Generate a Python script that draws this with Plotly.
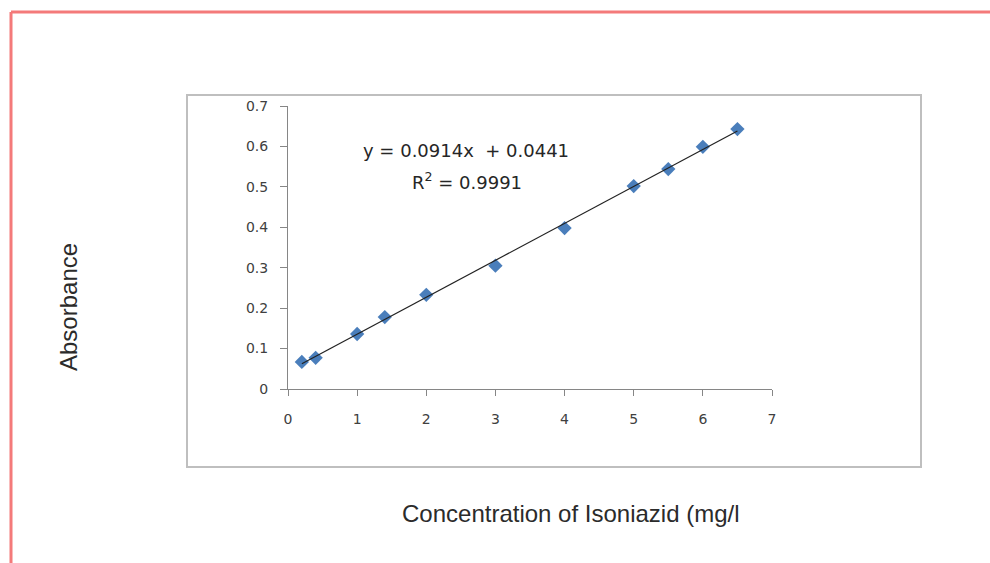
import plotly.graph_objects as go

# Calibration data: isoniazid concentration (mg/l) vs absorbance
concentration = [0.2, 0.4, 1.0, 1.4, 2.0, 3.0, 4.0, 5.0, 5.5, 6.0, 6.5]
absorbance = [0.067, 0.077, 0.136, 0.178, 0.233, 0.305, 0.398, 0.502, 0.544, 0.599, 0.643]

# Linear fit reported on the chart
slope = 0.0914
intercept = 0.0441
r_squared = 0.9991

x_ticks = [0, 1, 2, 3, 4, 5, 6, 7]
y_ticks = [0, 0.1, 0.2, 0.3, 0.4, 0.5, 0.6, 0.7]
y_tick_text = ["0", "0.1", "0.2", "0.3", "0.4", "0.5", "0.6", "0.7"]

W, H = 990, 563
PL, PR, PT, PB = 288, 772, 106, 389  # plot area in pixels


def px(x):
    return (x - PL) / (PR - PL)


def py(y):
    return (PB - y) / (PB - PT)


fit_x = [min(concentration), max(concentration)]
fit_y = [slope * v + intercept for v in fit_x]

fig = go.Figure()
fig.add_trace(go.Scatter(
    x=concentration, y=absorbance, mode="markers",
    marker=dict(symbol="diamond", size=11, color="#4A7EBB",
                line=dict(width=0)),
    showlegend=False,
))
fig.add_trace(go.Scatter(
    x=fit_x, y=fit_y, mode="lines",
    line=dict(color="#222222", width=1.2),
    showlegend=False,
))

axis_color = "#868686"
tick_font = dict(family="DejaVu Sans", size=14, color="#404040")

fig.update_xaxes(
    range=[0, 7], tickvals=x_ticks, showgrid=False, zeroline=False,
    showline=True, linecolor=axis_color, linewidth=1,
    ticks="outside", ticklen=6, tickcolor=axis_color,
    tickfont=tick_font, ticklabelstandoff=11,
)
fig.update_yaxes(
    range=[0, 0.7], tickvals=y_ticks, ticktext=y_tick_text,
    showgrid=False, zeroline=False,
    showline=True, linecolor=axis_color, linewidth=1,
    ticks="outside", ticklen=7, tickcolor=axis_color,
    tickfont=tick_font, ticklabelstandoff=9,
)

shapes = [
    # page border
    dict(type="line", xref="paper", yref="paper",
         x0=px(11), y0=py(12), x1=px(W + 5), y1=py(12),
         line=dict(color="#f47a7a", width=3)),
    dict(type="line", xref="paper", yref="paper",
         x0=px(11), y0=py(12), x1=px(11), y1=py(H + 5),
         line=dict(color="#f47a7a", width=3)),
    # chart frame
    dict(type="rect", xref="paper", yref="paper",
         x0=px(187), y0=py(95), x1=px(921), y1=py(467),
         line=dict(color="#bfbfbf", width=2), layer="below"),
]

eq_font = dict(family="DejaVu Sans", size=18, color="#262626")
annotations = [
    dict(text=f"y = {slope}x\u00a0 + {intercept}", xref="paper", yref="paper",
         x=px(466), y=py(150), showarrow=False, xanchor="center", yanchor="middle",
         font=eq_font),
    dict(text=f"R<sup>2</sup> = {r_squared}", xref="paper", yref="paper",
         x=px(467), y=py(181), showarrow=False, xanchor="center", yanchor="middle",
         font=eq_font),
    dict(text="Absorbance", xref="paper", yref="paper",
         x=px(68), y=py(307), showarrow=False, textangle=-90,
         xanchor="center", yanchor="middle",
         font=dict(family="Liberation Sans", size=24, color="#2b2b2b")),
    dict(text="Concentration of Isoniazid (mg/l", xref="paper", yref="paper",
         x=px(571), y=py(513), showarrow=False,
         xanchor="center", yanchor="middle",
         font=dict(family="Liberation Sans", size=24, color="#2b2b2b")),
]

fig.update_layout(
    width=W, height=H,
    margin=dict(l=PL, r=W - PR, t=PT, b=H - PB, autoexpand=False),
    paper_bgcolor="white", plot_bgcolor="white",
    shapes=shapes, annotations=annotations,
)

fig.write_html("out.html")
